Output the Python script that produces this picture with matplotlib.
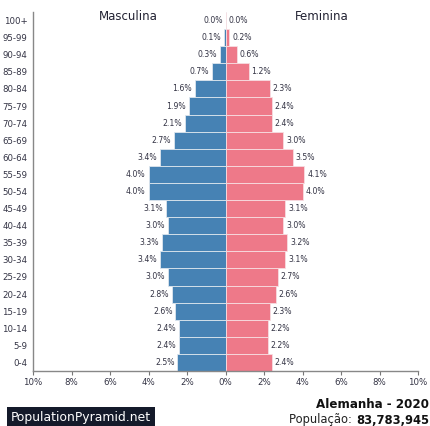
import matplotlib
matplotlib.use("Agg")
import matplotlib.pyplot as plt
import numpy as np

age_groups = ["0-4", "5-9", "10-14", "15-19", "20-24", "25-29", "30-34", "35-39",
              "40-44", "45-49", "50-54", "55-59", "60-64", "65-69", "70-74", "75-79",
              "80-84", "85-89", "90-94", "95-99", "100+"]
male = [2.5, 2.4, 2.4, 2.6, 2.8, 3.0, 3.4, 3.3, 3.0, 3.1, 4.0, 4.0, 3.4, 2.7, 2.1, 1.9,
        1.6, 0.7, 0.3, 0.1, 0.0]
female = [2.4, 2.2, 2.2, 2.3, 2.6, 2.7, 3.1, 3.2, 3.0, 3.1, 4.0, 4.1, 3.5, 3.0, 2.4, 2.4,
          2.3, 1.2, 0.6, 0.2, 0.0]
xticks = [-10, -8, -6, -4, -2, 0, 2, 4, 6, 8, 10]
xtick_labels = ["10%", "8%", "6%", "4%", "2%", "0%", "2%", "4%", "6%", "8%", "10%"]

male_color = "#4682b4"
female_color = "#ee7989"
text_color = "#333344"

fig = plt.figure(figsize=(4.31, 4.26), dpi=100)
ax = fig.add_axes([0.0766, 0.1291, 0.8934, 0.8427])

y = np.arange(len(age_groups))
ax.barh(y, [-m for m in male], height=1.0, color=male_color, edgecolor="#dde6ee", linewidth=0.6)
ax.barh(y, female, height=1.0, color=female_color, edgecolor="#f7dde1", linewidth=0.6)

for yi, m, f in zip(y, male, female):
    ax.text(-m - 0.15, yi, f"{m:.1f}%", ha="right", va="center", fontsize=5.6, color=text_color)
    ax.text(f + 0.15, yi, f"{f:.1f}%", ha="left", va="center", fontsize=5.6, color=text_color)

ax.set_xlim(-10, 10)
ax.set_ylim(-0.5, 20.5)
ax.set_xticks(xticks)
ax.set_xticklabels(xtick_labels, fontsize=6.2, color=text_color)
ax.set_yticks(y)
ax.set_yticklabels(age_groups, fontsize=6.2, color=text_color)
ax.tick_params(axis="y", length=0, pad=4)
ax.tick_params(axis="x", length=3, width=0.8, color="#777777", pad=2)
for s in ["top", "right"]:
    ax.spines[s].set_visible(False)
for s in ["left", "bottom"]:
    ax.spines[s].set_color("#888888")
    ax.spines[s].set_linewidth(1.0)

fig.text(128 / 431, 1 - 17 / 426, "Masculina", ha="center", va="center", fontsize=8.5, color="#222233")
fig.text(322 / 431, 1 - 17 / 426, "Feminina", ha="center", va="center", fontsize=8.5, color="#222233")

fig.text(11 / 431, 1 - 417 / 426, "PopulationPyramid.net", ha="left", va="center", fontsize=8.9,
         color="white",
         bbox=dict(boxstyle="square,pad=0.32", facecolor="#141a2a", edgecolor="none"))
fig.text(429 / 431, 1 - 405 / 426, "Alemanha - 2020", ha="right", va="center", fontsize=8.6,
         fontweight="bold", color="#111111")

num = fig.text(429 / 431, 1 - 420 / 426, "83,783,945", ha="right", va="center", fontsize=8.3,
               fontweight="bold", color="#111111")
fig.canvas.draw()
bb = num.get_window_extent(renderer=fig.canvas.get_renderer())
fig.text(bb.x0 / fig.bbox.width, 1 - 420 / 426, "População: ", ha="right", va="center",
         fontsize=8.3, color="#222222")

fig.savefig("out.png", dpi=100)
